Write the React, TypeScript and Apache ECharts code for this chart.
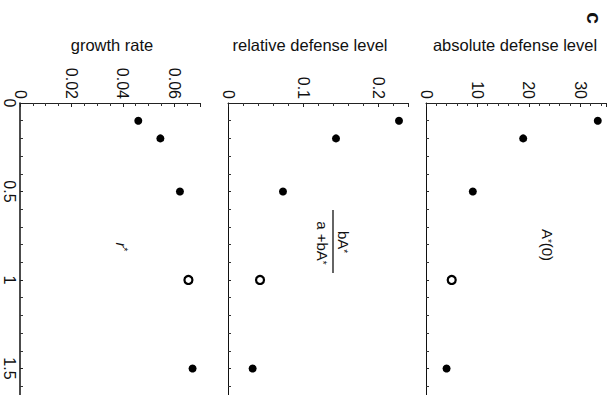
import React, { useEffect, useRef } from 'react';
import * as echarts from 'echarts';

// x positions (parameter values), shown on the vertical axis
const xValues = [0.1, 0.2, 0.5, 1, 1.5];
// panel values
const growthRate = [0.046, 0.0546, 0.0622, 0.0655, 0.0671];
const relativeDefense = [0.228, 0.144, 0.0733, 0.0427, 0.0328];
const absoluteDefense = [33.4, 18.9, 9.1, 5.0, 4.0];
const openIndex = 3; // the open circle (reference point)

const panelTitles = ['growth rate', 'relative defense level', 'absolute defense level'];
const panelMax = [0.07, 0.24, 35];
const panelInterval = [0.02, 0.1, 10];
const panelMinorSplit = [4, 5, 5];
const xMax = 1.65;
const xInterval = 0.5;

const FONT = 'Liberation Sans, Arial, Helvetica, sans-serif';

export default function App() {
  const ref = useRef<HTMLDivElement>(null);
  useEffect(() => {
    if (!ref.current) return;
    const chart = echarts.init(ref.current, null, { renderer: 'svg' });
    const panels = [growthRate, relativeDefense, absoluteDefense];
    const lefts = [20, 228, 426];
    const grid = lefts.map((l) => ({ left: l, top: 103, width: 180, height: 294 }));
    const xAxis = panels.map((_, i) => ({
      type: 'value',
      gridIndex: i,
      position: 'top',
      min: 0,
      max: panelMax[i],
      interval: panelInterval[i],
      axisLine: { show: true, lineStyle: { color: '#222', width: 1 } },
      axisTick: { show: true, inside: true, length: 4, lineStyle: { color: '#222' } },
      minorTick: { show: true, splitNumber: panelMinorSplit[i], length: 3, lineStyle: { color: '#333' } },
      splitLine: { show: false },
      axisLabel: {
        show: true,
        rotate: -90,
        margin: 4,
        showMaxLabel: false,
        color: '#111',
        fontSize: 16,
        fontFamily: FONT,
        formatter: (v: number) => String(Number(v.toFixed(4))),
      },
    }));
    const yAxis = panels.map((_, i) => ({
      type: 'value',
      gridIndex: i,
      inverse: true,
      min: 0,
      max: xMax,
      interval: xInterval,
      axisLine: { show: true, lineStyle: { color: '#111', width: i === 0 ? 1.5 : 1 } },
      axisTick: { show: true, inside: true, length: 3, lineStyle: { color: '#222' } },
      minorTick: { show: true, splitNumber: 5, length: 3, lineStyle: { color: '#333' } },
      splitLine: { show: false },
      axisLabel: {
        show: i === 0,
        rotate: -90,
        margin: 3,
        showMaxLabel: false,
        color: '#111',
        fontSize: 16,
        fontFamily: FONT,
      },
    }));
    const series: any[] = [];
    panels.forEach((vals, i) => {
      series.push({
        type: 'scatter',
        xAxisIndex: i,
        yAxisIndex: i,
        symbol: 'circle',
        symbolSize: 8,
        itemStyle: { color: '#000', opacity: 1 },
        data: xValues.map((x, j) => (j === openIndex ? null : [vals[j], x])).filter(Boolean),
      });
      series.push({
        type: 'scatter',
        xAxisIndex: i,
        yAxisIndex: i,
        symbol: 'circle',
        symbolSize: 8,
        itemStyle: { color: '#fff', borderColor: '#000', borderWidth: 2.2, opacity: 1 },
        data: [[vals[openIndex], xValues[openIndex]]],
      });
    });
    const titleCenters = [112, 310, 515];
    const rot = -Math.PI / 2;
    const graphic: any[] = [
      ...panelTitles.map((t, i) => ({
        type: 'text',
        x: titleCenters[i],
        y: 45,
        style: { text: t, fontSize: 16.5, fontFamily: FONT, fill: '#111', align: 'center', verticalAlign: 'middle' },
      })),
      {
        type: 'text', x: 594, y: 18, rotation: rot,
        style: { text: 'c', fontSize: 21, fontWeight: 'bold', fontFamily: FONT, fill: '#111', align: 'center', verticalAlign: 'middle' },
      },
      {
        type: 'text', x: 121, y: 247, rotation: rot,
        style: {
          text: '{a|r}{s|*}', fontFamily: FONT, fill: '#111', align: 'center', verticalAlign: 'middle',
          rich: { a: { fontSize: 15, fontFamily: FONT, fontStyle: 'italic' }, s: { fontSize: 10, fontFamily: FONT, verticalAlign: 'top' } },
        },
      },
      {
        type: 'text', x: 343, y: 242, rotation: rot,
        style: {
          text: '{a|bA}{s|*}', fill: '#111', align: 'center', verticalAlign: 'middle',
          rich: { a: { fontSize: 15, fontFamily: FONT }, s: { fontSize: 10, fontFamily: FONT } },
        },
      },
      {
        type: 'line', shape: { x1: 333, y1: 210, x2: 333, y2: 273 },
        style: { stroke: '#111', lineWidth: 1.3 },
      },
      {
        type: 'text', x: 322, y: 243, rotation: rot,
        style: {
          text: '{a|a +bA}{s|*}', fill: '#111', align: 'center', verticalAlign: 'middle',
          rich: { a: { fontSize: 15, fontFamily: FONT }, s: { fontSize: 10, fontFamily: FONT } },
        },
      },
      {
        type: 'text', x: 547, y: 245, rotation: rot,
        style: {
          text: '{a|A}{s|*}{a|(0)}', fill: '#111', align: 'center', verticalAlign: 'middle',
          rich: { a: { fontSize: 15, fontFamily: FONT }, s: { fontSize: 10, fontFamily: FONT } },
        },
      },
    ];
    chart.setOption({
      animation: false,
      backgroundColor: '#fff',
      grid,
      xAxis,
      yAxis,
      series,
      graphic,
    });
    return () => chart.dispose();
  }, []);
  return (
    <div
      ref={ref}
      style={{ position: 'absolute', left: 0, top: 0, width: 613, height: 395, overflow: 'hidden' }}
    />
  );
}
